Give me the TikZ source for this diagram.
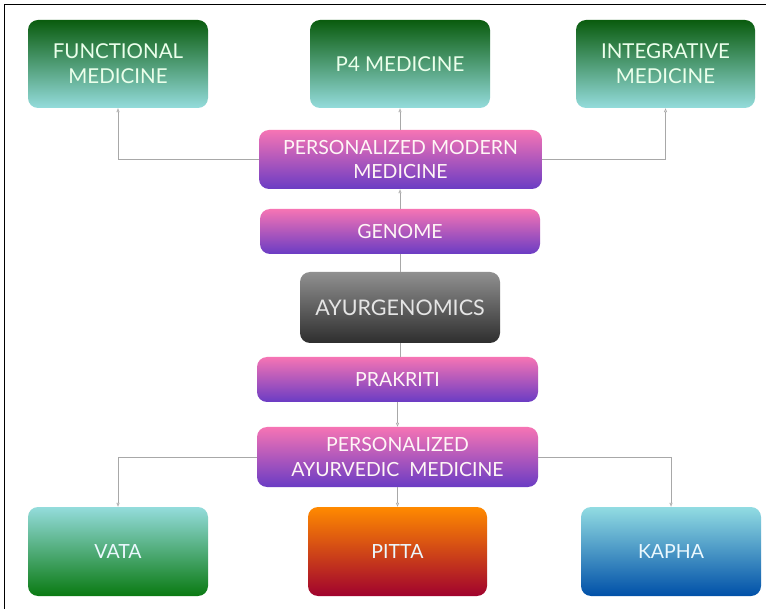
\documentclass[tikz,border=0pt]{standalone}
\usepackage{fontspec}
\setmainfont{Lato}
\usetikzlibrary{arrows.meta}
\definecolor{gdark}{HTML}{0A5C0E}
\definecolor{tlight}{HTML}{94DCDC}
\definecolor{pinktop}{HTML}{F674B4}
\definecolor{purpbot}{HTML}{6A3CC4}
\definecolor{vgreen}{HTML}{0A7A12}
\definecolor{porange}{HTML}{FF8A00}
\definecolor{pred}{HTML}{A0022E}
\definecolor{kblue}{HTML}{0050A8}
\definecolor{klight}{HTML}{92DCE2}
\definecolor{agtop}{HTML}{909090}
\definecolor{agbot}{HTML}{2E2E2E}
\definecolor{conncol}{HTML}{A8A8A8}
\tikzset{
  box/.style={rectangle, rounded corners=10pt, align=center, inner sep=0pt,
    font=\fontsize{19.5}{24.5}\selectfont, shading=axis},
  topbox/.style={box, top color=gdark, bottom color=tlight, text=green!8!white,
    minimum width=180pt, minimum height=88pt},
  pinkbox/.style={box, top color=pinktop, bottom color=purpbot, text=pink!15!white},
  botbox/.style={box, minimum width=180pt, minimum height=89pt, text=white!92!cyan},
  conn/.style={draw=conncol, line width=0.6pt},
  tip/.style={-{Triangle[open,length=4pt,width=3pt]}}
}
\begin{document}
\begin{tikzpicture}[x=1pt,y=-1pt]
\useasboundingbox (0,0) rectangle (766,609);
\fill[white] (0,0) rectangle (766,609);
\draw[line width=1.6pt] (4.5,609) -- (4.5,4.5) -- (766,4.5);

\node[topbox, font=\fontsize{20.5}{25}\selectfont] (func) at (118,64) {FUNCTIONAL\\MEDICINE};
\node[topbox, font=\fontsize{20.5}{25}\selectfont] (p4) at (400,64) {P4 MEDICINE};
\node[topbox, minimum width=179pt, font=\fontsize{20.5}{25}\selectfont] (integ) at (665.5,64) {INTEGRATIVE\\MEDICINE};

\node[pinkbox, minimum width=283pt, minimum height=59pt] (pmm) at (400.5,159.5) {PERSONALIZED MODERN\\MEDICINE};
\node[pinkbox, minimum width=280pt, minimum height=45pt] (genome) at (400,231.5) {GENOME};
\node[box, top color=agtop, bottom color=agbot, text=white!90!black, minimum width=200pt, minimum height=71pt,
  font=\fontsize{21.5}{26}\selectfont] (ayur) at (400,307.5) {AYURGENOMICS};
\node[pinkbox, minimum width=281pt, minimum height=45pt] (prak) at (397.5,379.5) {PRAKRITI};
\node[pinkbox, minimum width=281pt, minimum height=60pt] (pam) at (397.5,457) {PERSONALIZED\\AYURVEDIC~~MEDICINE};

\node[botbox, top color=tlight, bottom color=vgreen] (vata) at (118,551.5) {VATA};
\node[botbox, top color=porange, bottom color=pred, minimum width=179pt] (pitta) at (397.5,551.5) {PITTA};
\node[botbox, top color=klight, bottom color=kblue] (kapha) at (671,551.5) {KAPHA};

% connectors
\draw[conn, tip] (pmm.west) -| (func.south);
\draw[conn, tip] (pmm.east) -| (integ.south);
\draw[conn, tip] (pmm.north -| p4.south) -- (p4.south);
\draw[conn, tip] (genome.north) -- (genome.north |- pmm.south);
\draw[conn] (genome.south) -- (genome.south |- ayur.north);
\draw[conn] (ayur.south) -- (ayur.south |- prak.north);
\draw[conn, tip] (prak.south) -- (pam.north);
\draw[conn, tip] (pam.west) -| (vata.north);
\draw[conn, tip] (pam.south) -- (pam.south |- pitta.north);
\draw[conn, tip] (pam.east) -| (kapha.north);
\end{tikzpicture}
\end{document}
